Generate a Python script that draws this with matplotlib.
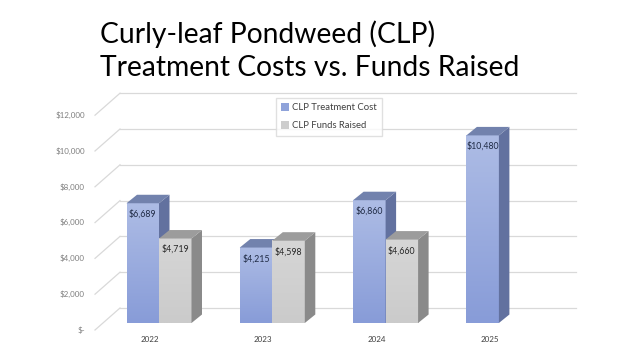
import numpy as np
import matplotlib.pyplot as plt
from matplotlib.patches import Polygon, Patch
from matplotlib.colors import LinearSegmentedColormap

# Données
years = ["2022", "2023", "2024", "2025"]
treatment_cost = [6689, 4215, 6860, 10480]
funds_raised = [4719, 4598, 4660, None]
y_ticks = [0, 2000, 4000, 6000, 8000, 10000, 12000]
y_tick_labels = ["$-", "$2,000", "$4,000", "$6,000", "$8,000", "$10,000", "$12,000"]

# Géométrie (pixels -> unités de données)
W, H = 636, 357
px_x = 113.3           # pixels par catégorie
px_y = 17.9 / 1000     # pixels par unité de valeur
x0_px, y0_px = 159, 323  # centre du groupe 2022, base des barres (depuis le haut)
ax_l, ax_r, ax_t, ax_b = 60, 600, 85, 350

def dx(p):
    return p / px_x

def dy(p):
    return p / px_y

bar_w = dx(32.5)
depth_x = dx(10.5)
depth_y = dy(8.5)
back_dy = dy(15)
front_dy = dy(-7)

plt.rcParams["font.family"] = ["Lato", "DejaVu Sans"]
fig = plt.figure(figsize=(W / 100, H / 100), dpi=100)
ax = fig.add_axes([ax_l / W, (H - ax_b) / H, (ax_r - ax_l) / W, (ax_b - ax_t) / H])
xlim = ((ax_l - x0_px) / px_x, (ax_r - x0_px) / px_x)
ylim = (-(ax_b - y0_px) / px_y, (y0_px - ax_t) / px_y)

# Quadrillage : mur du fond + lignes obliques
back_left = dx(120 - x0_px)
back_right = dx(576 - x0_px)
front_left = dx(95 - x0_px)
for v in y_ticks:
    ax.plot([back_left, back_right], [v + back_dy, v + back_dy], color="#d9d9d9", lw=0.9, zorder=1)
    ax.plot([front_left, back_left], [v + front_dy, v + back_dy], color="#d9d9d9", lw=0.9, zorder=1)

blue_grad = LinearSegmentedColormap.from_list("b", ["#889cd8", "#adbce5"])
gray_grad = LinearSegmentedColormap.from_list("g", ["#cbcbcb", "#d6d6d6"])
grad = np.linspace(0, 1, 64).reshape(-1, 1)

def bar3d(xl, h, cmap, side_col, top_col, z):
    xr = xl + bar_w
    ax.imshow(grad, extent=[xl, xr, 0, h], origin="lower", cmap=cmap,
              aspect="auto", interpolation="bilinear", zorder=z)
    side = Polygon([[xr, 0], [xr + depth_x, depth_y], [xr + depth_x, h + depth_y], [xr, h]],
                   closed=True, facecolor=side_col, edgecolor="none", zorder=z)
    top = Polygon([[xl, h], [xl + depth_x, h + depth_y], [xr + depth_x, h + depth_y], [xr, h]],
                  closed=True, facecolor=top_col, edgecolor="none", zorder=z)
    ax.add_patch(side)
    ax.add_patch(top)

for i in range(len(years)):
    z = 3 + i * 2
    c = treatment_cost[i]
    xl = i - bar_w
    bar3d(xl, c, blue_grad, "#62719f", "#7282ad", z)
    ax.text(xl + bar_w / 2, c - dy(11), f"${c:,}", ha="center", va="center",
            fontsize=6.3, color="#1f2a44", zorder=z + 1)
    f = funds_raised[i]
    if f is not None:
        xl = i
        bar3d(xl, f, gray_grad, "#8a8a8a", "#9c9c9c", z + 1)
        ax.text(xl + bar_w / 2, f - dy(11), f"${f:,}", ha="center", va="center",
                fontsize=6.3, color="#262626", zorder=z + 2)

ax.set_xlim(*xlim)
ax.set_ylim(*ylim)
ax.axis("off")

# Étiquettes de l'axe des valeurs (plan avant)
for v, lab in zip(y_ticks, y_tick_labels):
    ax.text(dx(85 - x0_px), v + front_dy, lab, ha="right", va="center",
            fontsize=5.8, color="#7f7f7f")

# Étiquettes des catégories
for i, yr in enumerate(years):
    ax.text(i - dx(9), dy(-16), yr, ha="center", va="center", fontsize=5.8, color="#404040")

# Légende
handles = [Patch(facecolor="#8fa3da", edgecolor="none", label="CLP Treatment Cost"),
           Patch(facecolor="#cdcdcd", edgecolor="none", label="CLP Funds Raised")]
fig.legend(handles=handles, loc="upper left", bbox_to_anchor=(271 / W, 1 - 93 / H),
           fontsize=6.8, frameon=True, fancybox=False, edgecolor="#d9d9d9",
           handlelength=0.8, handleheight=0.8, handletextpad=0.3, labelspacing=0.95,
           borderpad=0.6, labelcolor="#404040")

# Titre
fig.text(100 / W, 1 - 34 / H, "Curly-leaf Pondweed (CLP)", ha="left", va="center",
         fontsize=20.3, color="black")
fig.text(100 / W, 1 - 68 / H, "Treatment Costs vs. Funds Raised", ha="left", va="center",
         fontsize=20.3, color="black")

fig.savefig("out.png", dpi=100)
